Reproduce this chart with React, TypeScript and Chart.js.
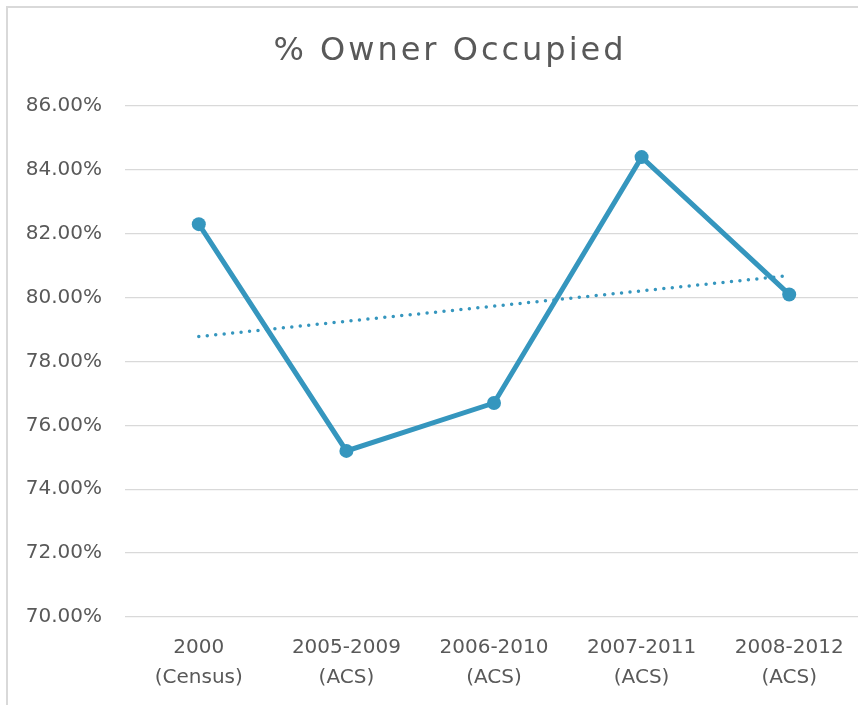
import React, { useEffect, useRef } from "react";
import { Chart, registerables } from "chart.js";

Chart.register(...registerables);

const TITLE = "% Owner Occupied";
const categories: string[][] = [
  ["2000", "(Census)"],
  ["2005-2009", "(ACS)"],
  ["2006-2010", "(ACS)"],
  ["2007-2011", "(ACS)"],
  ["2008-2012", "(ACS)"],
];
const ownerOccupied: number[] = [82.3, 75.2, 76.7, 84.4, 80.1];
// linear trendline endpoints
const trendline: (number | null)[] = [78.78, null, null, null, 80.69];
const yMin = 70;
const yMax = 86;
const yStep = 2;

const COLOR = "#3596be";
const TEXT = "#595959";
const FONT = "'DejaVu Sans', sans-serif";

const titlePlugin = {
  id: "customTitle",
  afterDraw(chart: any) {
    const ctx = chart.ctx as CanvasRenderingContext2D;
    ctx.save();
    ctx.font = `32px ${FONT}`;
    (ctx as any).letterSpacing = "3px";
    ctx.fillStyle = TEXT;
    ctx.textAlign = "center";
    ctx.textBaseline = "middle";
    ctx.fillText(TITLE, 442, 44);
    ctx.restore();
  },
};

export default function App() {
  const ref = useRef<HTMLCanvasElement>(null);
  useEffect(() => {
    if (!ref.current) return;
    const chart = new Chart(ref.current, {
      type: "line",
      data: {
        labels: categories,
        datasets: [
          {
            data: ownerOccupied,
            borderColor: COLOR,
            backgroundColor: COLOR,
            borderWidth: 5,
            pointRadius: 7,
            pointBorderWidth: 0,
            pointBackgroundColor: COLOR,
            tension: 0,
          },
          {
            data: trendline,
            borderColor: COLOR,
            borderWidth: 3.5,
            borderDash: [0, 8.5],
            borderCapStyle: "round",
            pointRadius: 0,
            spanGaps: true,
            tension: 0,
          },
        ],
      },
      options: {
        responsive: false,
        animation: false,
        layout: { padding: { left: 0, right: 25, top: 98, bottom: 0 } },
        plugins: {
          legend: { display: false },
          title: { display: false },
          tooltip: { enabled: false },
        },
        scales: {
          x: {
            offset: true,
            grid: { display: false, drawTicks: false, offset: true },
            border: { display: false },
            ticks: {
              color: TEXT,
              font: { family: FONT, size: 20, lineHeight: 1.5 },
              padding: 16,
              maxRotation: 0,
              autoSkip: false,
            },
            afterFit(scale: any) {
              scale.height = 96;
            },
          },
          y: {
            min: yMin,
            max: yMax,
            grid: { color: "#d9d9d9", lineWidth: 1.3, drawTicks: false },
            border: { display: false },
            ticks: {
              stepSize: yStep,
              color: TEXT,
              font: { family: FONT, size: 20 },
              padding: 23,
              callback: (v: any) => Number(v).toFixed(2) + "%",
            },
            afterFit(scale: any) {
              scale.width = 117;
            },
          },
        },
      },
      plugins: [titlePlugin],
    });
    return () => chart.destroy();
  }, []);

  return (
    <div
      style={{
        position: "fixed",
        left: 0,
        top: 0,
        width: 858,
        height: 705,
        overflow: "hidden",
        background: "#fff",
      }}
    >
      <div
        style={{
          position: "absolute",
          left: 6,
          top: 6,
          width: 880,
          height: 710,
          border: "2px solid #d9d9d9",
          background: "#fff",
        }}
      >
        <canvas ref={ref} width={880} height={705} style={{ display: "block" }} />
      </div>
    </div>
  );
}
